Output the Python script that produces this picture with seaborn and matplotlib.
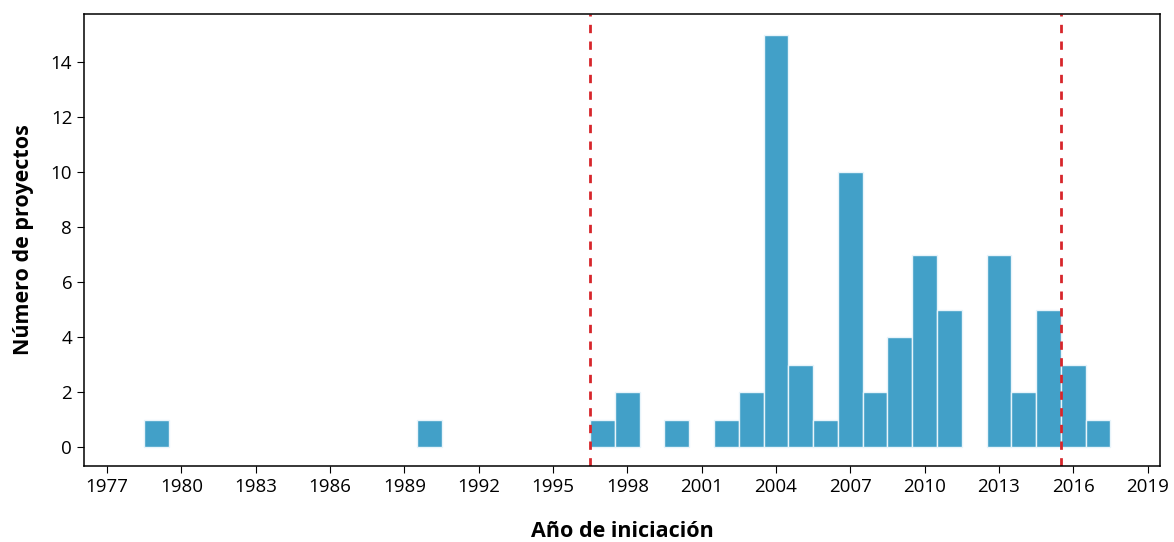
import numpy as np
import pandas as pd
import matplotlib
matplotlib.use("Agg")
import matplotlib.pyplot as plt
import seaborn as sns

# start year of each project, grouped by year
years = [1979, 1990, 1997, 1998, 2000, 2002, 2003, 2004, 2005, 2006,
         2007, 2008, 2009, 2010, 2011, 2013, 2014, 2015, 2016, 2017]
counts = [1, 1, 1, 2, 1, 1, 2, 15, 3, 1,
          10, 2, 4, 7, 5, 7, 2, 5, 3, 1]
cut_years = [1996.5, 2015.5]
xticks = list(range(1977, 2020, 3))
yticks = list(range(0, 15, 2))

df = pd.DataFrame({"year": years, "n": counts})

sns.set_style("ticks")
plt.rcParams["font.family"] = ["Open Sans", "DejaVu Sans"]
plt.rcParams["text.color"] = "black"
plt.rcParams["axes.labelcolor"] = "black"
plt.rcParams["xtick.color"] = "black"
plt.rcParams["ytick.color"] = "black"

fig = plt.figure(figsize=(11.74, 5.42), dpi=100)
ax = fig.add_axes([84 / 1174, 1 - 466 / 542, (1160 - 84) / 1174, (466 - 14) / 542])

sns.histplot(data=df, x="year", weights="n", binwidth=1, binrange=(1978.5, 2017.5),
             color="#42a0c8", alpha=1, edgecolor="#e8f4fa", linewidth=1, ax=ax)

# empty bins should not leave an edge line on the baseline
for p in ax.patches:
    if p.get_height() == 0:
        p.set_visible(False)

for c in cut_years:
    ax.axvline(c, color="#d7262b", linestyle=(0, (3, 3)), linewidth=2)

ax.set_xlim(1976.07, 2019.5)
ax.set_ylim(-0.69, 15.75)
ax.set_xticks(xticks)
ax.set_yticks(yticks)
ax.tick_params(labelsize=13.5, length=5, color="black")
ax.set_xlabel("Año de iniciación", fontsize=15.5, fontweight="bold", labelpad=18)
ax.set_ylabel("Número de proyectos", fontsize=15.5, fontweight="bold", labelpad=12)
for s in ax.spines.values():
    s.set_linewidth(1.1)
    s.set_color("black")
    s.set_visible(True)

fig.savefig("out.png", dpi=100)
